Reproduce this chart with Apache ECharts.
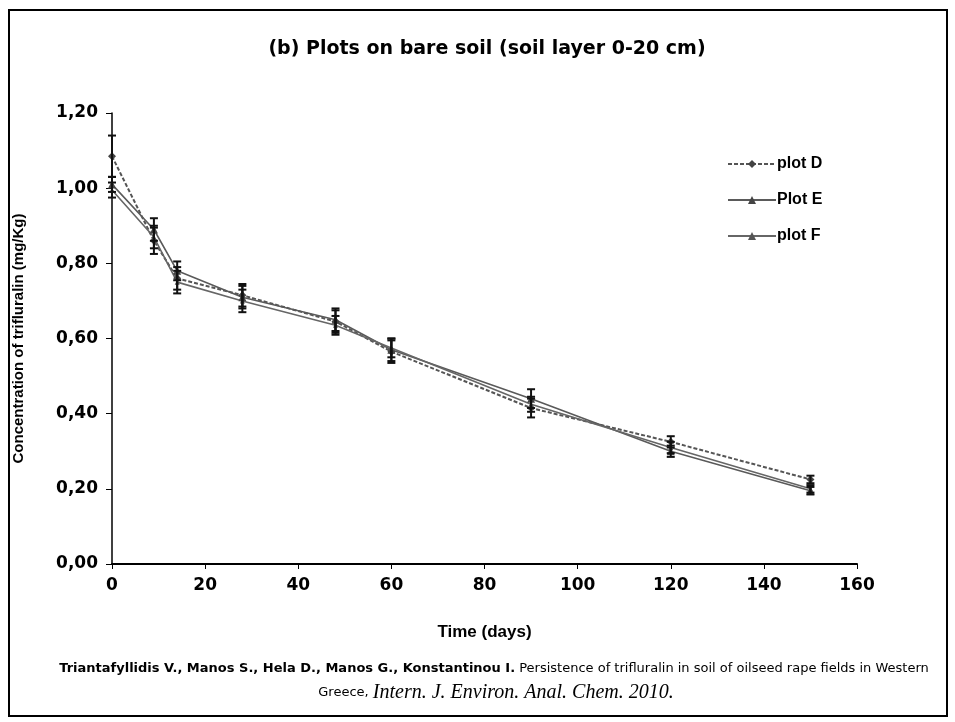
<!DOCTYPE html>
<html>
<head>
<meta charset="utf-8">
<script src="https://cdn.jsdelivr.net/npm/echarts@6/dist/echarts.min.js"></script>
<style>
html,body{margin:0;padding:0;background:#fff;}
#main{width:955px;height:722px;}
</style>
</head>
<body>
<div id="main"></div>
<script>
var days = [0, 9, 14, 28, 48, 60, 90, 120, 150];
var plotD = [1.085, 0.86, 0.76, 0.715, 0.645, 0.565, 0.415, 0.325, 0.225];
var plotE = [1.01, 0.89, 0.78, 0.71, 0.65, 0.57, 0.44, 0.30, 0.195];
var plotF = [0.995, 0.87, 0.75, 0.70, 0.635, 0.575, 0.425, 0.31, 0.20];
var errD = [0.055, 0.035, 0.03, 0.03, 0.03, 0.03, 0.025, 0.015, 0.01];
var errE = [0.02, 0.03, 0.025, 0.03, 0.03, 0.03, 0.025, 0.015, 0.01];
var errF = [0.02, 0.03, 0.03, 0.03, 0.025, 0.025, 0.02, 0.015, 0.01];
var seriesNames = ['plot D', 'Plot E', 'plot F'];

function pairs(v) { return days.map(function (d, i) { return [d, v[i]]; }); }
function errData(v, e) { return days.map(function (d, i) { return [d, v[i] - e[i], v[i] + e[i]]; }); }

function errSeries(v, e) {
  return {
    type: 'custom',
    data: errData(v, e),
    z: 5,
    silent: true,
    renderItem: function (params, api) {
      var x = api.value(0);
      var lo = api.coord([x, api.value(1)]);
      var hi = api.coord([x, api.value(2)]);
      var hw = 4;
      var st = { stroke: '#111', lineWidth: 2 };
      return {
        type: 'group',
        children: [
          { type: 'line', shape: { x1: lo[0], y1: lo[1], x2: hi[0], y2: hi[1] }, style: st },
          { type: 'line', shape: { x1: lo[0] - hw, y1: lo[1], x2: lo[0] + hw, y2: lo[1] }, style: st },
          { type: 'line', shape: { x1: hi[0] - hw, y1: hi[1], x2: hi[0] + hw, y2: hi[1] }, style: st }
        ]
      };
    }
  };
}

var chart = echarts.init(document.getElementById('main'), null, { renderer: 'canvas' });
var font = 'Liberation Sans, Arial, sans-serif';
var wide = 'DejaVu Sans, sans-serif';
chart.setOption({
  backgroundColor: '#fff',
  animation: false,
  title: {
    text: '(b) Plots on bare soil (soil layer 0-20 cm)',
    left: 482, top: 35, textAlign: 'center',
    textStyle: { fontFamily: wide, fontSize: 19, fontWeight: 'bold', color: '#000' }
  },
  grid: { left: 112, right: 98, top: 113, bottom: 158 },
  legend: {
    orient: 'vertical',
    left: 722, top: 151,
    itemGap: 20,
    itemWidth: 48, itemHeight: 10,
    data: seriesNames,
    textStyle: { fontFamily: font, fontSize: 16, fontWeight: 'bold', color: '#000', padding: [0, 0, 0, -4] }
  },
  xAxis: {
    type: 'value', min: 0, max: 160, interval: 20,
    name: 'Time (days)', nameLocation: 'middle', nameGap: 60,
    nameTextStyle: { fontFamily: font, fontSize: 17, fontWeight: 'bold', color: '#000' },
    axisLine: { lineStyle: { color: '#000', width: 2 } },
    axisTick: { length: 5, lineStyle: { color: '#000', width: 1 } },
    axisLabel: { fontFamily: wide, fontSize: 17, fontWeight: 'bold', color: '#000', margin: 13 },
    splitLine: { show: false }
  },
  yAxis: {
    type: 'value', min: 0, max: 1.2, interval: 0.2,
    name: 'Concentration of trifluralin (mg/Kg)', nameLocation: 'middle', nameGap: 86,
    nameTextStyle: { fontFamily: font, fontSize: 15, fontWeight: 'bold', color: '#000' },
    axisLine: { show: true, lineStyle: { color: '#000', width: 1.5 } },
    axisTick: { show: true, length: 6, lineStyle: { color: '#000', width: 1 } },
    axisLabel: {
      fontFamily: wide, fontSize: 17, fontWeight: 'bold', color: '#000', margin: 14,
      formatter: function (v) { return v.toFixed(2).replace('.', ','); }
    },
    splitLine: { show: false }
  },
  series: [
    {
      name: seriesNames[0], type: 'line', data: pairs(plotD), z: 3,
      symbol: 'diamond', symbolSize: 8,
      lineStyle: { color: '#555', width: 2, type: [4, 2] },
      itemStyle: { color: '#444' }
    },
    {
      name: seriesNames[1], type: 'line', data: pairs(plotE), z: 3,
      symbol: 'triangle', symbolSize: 8,
      lineStyle: { color: '#5a5a5a', width: 1.6 },
      itemStyle: { color: '#444' }
    },
    {
      name: seriesNames[2], type: 'line', data: pairs(plotF), z: 3,
      symbol: 'triangle', symbolSize: 5,
      lineStyle: { color: '#666', width: 1.6 },
      itemStyle: { color: '#555' }
    },
    errSeries(plotD, errD),
    errSeries(plotE, errE),
    errSeries(plotF, errF)
  ],
  graphic: [
    { type: 'rect', shape: { x: 9, y: 10, width: 938, height: 706 }, style: { fill: 'none', stroke: '#000', lineWidth: 2 }, z: 100 },
    {
      type: 'text', x: 494, y: 662,
      style: {
        text: '{b|Triantafyllidis V., Manos S., Hela D., Manos G., Konstantinou I.} Persistence of trifluralin in soil of oilseed rape fields in Western',
        fontFamily: wide, fontSize: 13, fill: '#000', align: 'center',
        rich: { b: { fontFamily: wide, fontSize: 13, fontWeight: 'bold', fill: '#000' } }
      }
    },
    {
      type: 'text', x: 496, y: 683,
      style: {
        text: 'Greece, {i|Intern. J. Environ. Anal. Chem. 2010.}',
        fontFamily: wide, fontSize: 13, fill: '#000', align: 'center',
        rich: { i: { fontFamily: 'Liberation Serif, serif', fontStyle: 'italic', fontSize: 20, fill: '#000' } }
      }
    }
  ]
});
</script>
</body>
</html>
